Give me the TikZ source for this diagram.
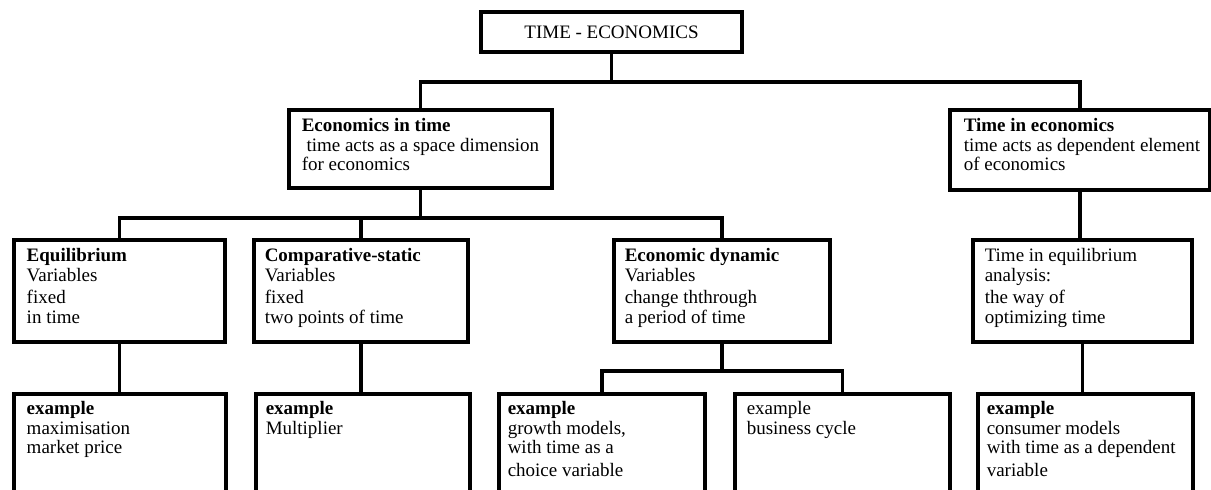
\documentclass[tikz,border=0pt]{standalone}
\usepackage{fontspec}
\setmainfont{Liberation Serif}

\begin{document}
\begin{tikzpicture}[x = 1pt, y = -1pt, % pixel grid, y pointing down
                line width = 3.5pt, % heavy connector lines
                font = \fontsize{19}{19.5}\selectfont
            ]

            \tikzstyle{box}=[draw = black, rectangle, inner sep = 0pt,
            anchor = north west, line width = 3.8pt]
            \tikzstyle{txt}=[inner sep = 0pt, anchor = north west, align = left]

            \useasboundingbox (0,0) rectangle (1211,490);

            % top of the tree
            \node[box, anchor = center, minimum width = 261pt, minimum height = 40pt]
            (top) at (611.5,32) {TIME - ECONOMICS};

            % first level
            \node[box, minimum width = 263pt, minimum height = 78pt] (eit) at (287,108) {};
            \node[txt] (eitt) at ([shift={(13,9)}]eit.north west)
            {\textbf{Economics in time}\\\ time acts as a space dimension\\for economics};
            \node[box, minimum width = 260pt, minimum height = 80pt] (tie) at (948,108) {};
            \node[txt] (tiet) at ([shift={(14,9)}]tie.north west)
            {\textbf{Time in economics}\\time acts as dependent element\\of economics};

            % second level
            \node[box, minimum width = 211pt, minimum height = 102pt] (eq) at (12,238) {};
            \node[txt] (eqt) at ([shift={(13,9)}]eq.north west)
            {\textbf{Equilibrium}\\Variables\\[3pt]fixed\\in time};
            \node[box, minimum width = 214pt, minimum height = 102pt] (comp) at (252,238) {};
            \node[txt] (compt) at ([shift={(11,9)}]comp.north west)
            {\textbf{Comparative-static}\\Variables\\[3pt]fixed\\two points of time};
            \node[box, minimum width = 216pt, minimum height = 102pt] (dyn) at (612,238) {};
            \node[txt] (dynt) at ([shift={(11,9)}]dyn.north west)
            {\textbf{Economic dynamic}\\Variables\\[3pt]change ththrough\\a period of time};
            \node[box, minimum width = 219pt, minimum height = 102pt] (tieq) at (971,238) {};
            \node[txt] (tieqt) at ([shift={(12,9)}]tieq.north west)
            {Time in equilibrium\\analysis:\\[3pt]the way of\\optimizing time};

            % examples, running off the bottom
            \node[box, minimum width = 212pt, minimum height = 130pt] (eqx) at (12,392) {};
            \node[txt] (eqxt) at ([shift={(13,8)}]eqx.north west)
            {\textbf{example}\\maximisation\\market price};
            \node[box, minimum width = 214pt, minimum height = 130pt] (compx) at (254,392) {};
            \node[txt] (compxt) at ([shift={(10,8)}]compx.north west)
            {\textbf{example}\\Multiplier};
            \node[box, minimum width = 206pt, minimum height = 130pt] (grow) at (497,392) {};
            \node[txt] (growt) at ([shift={(9,8)}]grow.north west)
            {\textbf{example}\\growth models,\\with time as a\\[3pt]choice variable};
            \node[box, minimum width = 215pt, minimum height = 130pt] (bus) at (733,392) {};
            \node[txt] (bust) at ([shift={(12,8)}]bus.north west)
            {example\\business cycle};
            \node[box, minimum width = 215pt, minimum height = 130pt] (cons) at (976,392) {};
            \node[txt] (const) at ([shift={(9,8)}]cons.north west)
            {\textbf{example}\\consumer models\\with time as a dependent\\[3pt]variable};

            % connectors
            \draw (top.south) -- ++(0,28) -| (eit.north);
            \draw (top.south) -- ++(0,28) -| (tie.north);
            \draw (eit.south) -- ++(0,28) -| (eq.north);
            \draw (eit.south) -- ++(0,28) -| (comp.north);
            \draw (eit.south) -- ++(0,28) -| (dyn.north);
            \draw (tie.south) -- (tie.south |- tieq.north);
            \draw (eq.south) -- (eq.south |- eqx.north);
            \draw (comp.south) -- (comp.south |- compx.north);
            \draw (dyn.south) -- ++(0,27) -| (grow.north);
            \draw (dyn.south) -- ++(0,27) -| (bus.north);
            \draw (tieq.south) -- (tieq.south |- cons.north);
        \end{tikzpicture}
\end{document}
